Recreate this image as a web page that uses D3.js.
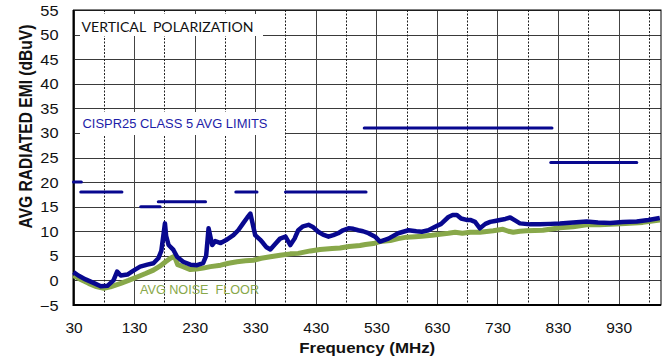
<!DOCTYPE html>
<html><head><meta charset="utf-8">
<script src="https://cdn.jsdelivr.net/npm/d3@7"></script>
<style>body{margin:0;background:#fff}svg{display:block}</style>
</head><body><svg id="c" width="663" height="360"></svg>
<script>
// ---- data ----
const emiFreq = [30,38,50,63,75,86,96,102,108,119,129,140,152,162,170,175,181,183,187,195,201,211,223,234,244,249,253,259,264,273,282,294,302,310,317,322,325,330,338,343,348,355,363,371,380,388,395,401,409,418,426,434,442,451,459,467,475,484,492,500,508,517,528,536,550,566,583,596,605,616,627,637,649,656,663,670,679,685,693,701,710,718,726,734,743,751,759,767,784,800,817,833,855,877,896,916,937,960,979,998];
const emiLevel = [1.7,1.0,0.2,-0.5,-1.2,-1.1,0.0,1.8,1.0,1.2,2.0,2.8,3.2,3.5,4.5,6.0,11.6,9.0,7.2,6.2,4.8,3.8,3.2,3.1,3.5,5.0,10.6,7.2,8.0,7.6,8.2,9.2,10.2,11.6,12.8,13.6,12.0,9.2,8.3,7.6,6.8,6.3,7.4,8.5,8.9,7.2,8.5,10.2,11.0,11.3,10.8,9.9,9.3,8.9,9.2,9.6,10.2,10.6,10.5,10.2,10.0,9.6,8.9,7.9,8.5,9.6,10.2,10.0,9.9,10.2,10.9,11.5,12.9,13.3,13.3,12.6,12.3,12.3,11.9,10.6,11.5,11.9,12.1,12.3,12.5,12.8,12.2,11.6,11.4,11.4,11.5,11.6,11.8,12.0,11.8,11.7,11.9,12.0,12.3,12.7];
const floorFreq = [30,42,55,66,80,91,108,121,135,149,162,174,182,190,195,198,202,211,223,233,244,256,273,286,300,314,327,340,355,371,388,401,421,437,457,470,485,503,512,525,536,553,566,580,594,605,622,635,649,660,672,685,701,723,739,748,756,767,778,805,833,855,877,899,916,941,970,998];
const floorLevel = [1.0,0.2,-0.6,-1.2,-1.6,-1.3,-0.6,0.0,0.7,1.4,2.1,3.0,3.8,4.5,4.8,4.5,3.2,2.8,2.2,2.3,2.5,2.8,3.1,3.5,3.8,4.0,4.1,4.5,4.8,5.1,5.4,5.5,6.0,6.3,6.5,6.6,6.9,7.1,7.3,7.5,7.9,8.1,8.5,8.8,8.9,9.0,9.2,9.4,9.6,9.8,9.6,9.8,9.8,10.1,10.4,10.0,9.8,10.0,10.1,10.2,10.7,10.9,11.3,11.3,11.4,11.6,11.8,12.3];
const limitStart = [30,42,141,170,298,380,510,818];
const limitEnd   = [43,110,173,248,333,513,820,960];
const limitLevel = [20,18,15,16,18,18,31,24];
const xTickLabels = [30,130,230,330,430,530,630,730,830,930];
const xMinorGrid = [80,180,280,380,480,580,680,780,880,980];
const yTickLabels = [-5,0,5,10,15,20,25,30,35,40,45,50,55];

// ---- layout ----
const svg = d3.select('#c');
const x = d3.scaleLinear().domain([30,1000]).range([73.5,661]);
const y = d3.scaleLinear().domain([-5,55]).range([305,10]);
const navy = '#08088f', green = '#88a84a';

// grid
const g = svg.append('g');
g.selectAll('.hg').data(yTickLabels).join('line')
  .attr('x1', x(30)).attr('x2', x(1000))
  .attr('y1', d => Math.round(y(d))+0.5).attr('y2', d => Math.round(y(d))+0.5)
  .attr('stroke', '#3a3a3a').attr('stroke-width', 1);
g.selectAll('.vg').data(xTickLabels).join('line')
  .attr('x1', d => Math.round(x(d))+0.5).attr('x2', d => Math.round(x(d))+0.5)
  .attr('y1', y(55)).attr('y2', y(-5))
  .attr('stroke', '#444').attr('stroke-width', 1);
g.selectAll('.vd').data(xMinorGrid).join('line')
  .attr('x1', d => Math.round(x(d))+0.5).attr('x2', d => Math.round(x(d))+0.5)
  .attr('y1', y(55)).attr('y2', y(-5))
  .attr('stroke', '#222').attr('stroke-width', 1).attr('stroke-dasharray', '2,1.5');

// border
svg.append('rect').attr('x', x(30)).attr('y', y(55)).attr('width', x(1000)-x(30)).attr('height', y(-5)-y(55))
  .attr('fill', 'none').attr('stroke', '#000').attr('stroke-width', 1);
svg.append('line').attr('x1', x(30)).attr('x2', x(30)).attr('y1', y(55)).attr('y2', y(-5)+1).attr('stroke', '#000').attr('stroke-width', 2);
svg.append('line').attr('x1', x(30)).attr('x2', x(1000)).attr('y1', y(-5)).attr('y2', y(-5)).attr('stroke', '#000').attr('stroke-width', 2);

// annotation boxes
svg.append('rect').attr('x', 80).attr('y', 14).attr('width', 183).attr('height', 22).attr('fill', '#fff');
svg.append('text').attr('x', 81.5).attr('y', 31.5).attr('font-family', 'Lato, "Open Sans", sans-serif')
  .attr('font-size', 14).attr('fill', '#111').attr('textLength', 172).attr('lengthAdjust', 'spacingAndGlyphs')
  .attr('xml:space', 'preserve').text('VERTICAL  POLARIZATION');
svg.append('rect').attr('x', 80).attr('y', 112).attr('width', 205).attr('height', 23).attr('fill', '#fff');
svg.append('text').attr('x', 82.5).attr('y', 127.7).attr('font-family', 'Arial, "Liberation Sans", sans-serif')
  .attr('font-size', 12.5).attr('fill', '#1c1ca8').attr('textLength', 185).attr('lengthAdjust', 'spacingAndGlyphs')
  .text('CISPR25 CLASS 5 AVG LIMITS');
svg.append('text').attr('x', 140).attr('y', 294.3).attr('font-family', 'Arial, "Liberation Sans", sans-serif')
  .attr('font-size', 13.5).attr('fill', green).attr('textLength', 119).attr('lengthAdjust', 'spacingAndGlyphs')
  .attr('xml:space', 'preserve').text('AVG NOISE  FLOOR');

// curves
const floorData = floorFreq.map((f,i) => [f, floorLevel[i]]);
const emiData = emiFreq.map((f,i) => [f, emiLevel[i]]);
const line = d3.line().x(d => x(d[0])).y(d => y(d[1]));
svg.append('path').datum(floorData).attr('d', line).attr('fill', 'none')
  .attr('stroke', green).attr('stroke-width', 5).attr('stroke-linejoin', 'round');
svg.append('path').datum(emiData).attr('d', line).attr('fill', 'none')
  .attr('stroke', navy).attr('stroke-width', 4.5).attr('stroke-linejoin', 'round');

// limits
svg.selectAll('.lim').data(limitLevel).join('line')
  .attr('x1', (d,i) => x(limitStart[i])).attr('x2', (d,i) => x(limitEnd[i]))
  .attr('y1', d => y(d)).attr('y2', d => y(d))
  .attr('stroke', navy).attr('stroke-width', 3).attr('stroke-linecap', 'round');

// axes
const yAxis = svg.append('g').attr('transform', `translate(${x(30)},0)`)
  .call(d3.axisLeft(y).tickValues(yTickLabels).tickSize(0).tickPadding(0));
yAxis.select('.domain').remove();
yAxis.selectAll('text').attr('x', 0).attr('dy', '0.36em')
  .attr('transform', 'translate(-15,0) scale(1.17,1)')
  .attr('font-family', 'Arial, "Liberation Sans", sans-serif').attr('font-size', 14).attr('fill', '#111');

const xAxis = svg.append('g').attr('transform', `translate(0,${y(-5)})`)
  .call(d3.axisBottom(x).tickValues(xTickLabels).tickSize(0).tickPadding(0));
xAxis.select('.domain').remove();
xAxis.selectAll('text').attr('y', 27.5).attr('dy', 0)
  .attr('font-family', 'Arial, "Liberation Sans", sans-serif').attr('font-size', 15.5).attr('fill', '#111');

// titles
svg.append('text').attr('x', (x(30)+x(1000))/2).attr('y', 352.5).attr('text-anchor', 'middle')
  .attr('font-family', 'Arial, "Liberation Sans", sans-serif').attr('font-weight', 'bold')
  .attr('font-size', 15.5).attr('fill', '#111').attr('textLength', 136).attr('lengthAdjust', 'spacingAndGlyphs')
  .text('Frequency (MHz)');
svg.append('text').attr('transform', 'translate(32,126.5) rotate(-90) scale(1,1.22)').attr('text-anchor', 'middle')
  .attr('font-family', 'Arial, "Liberation Sans", sans-serif').attr('font-weight', 'bold')
  .attr('font-size', 15.6).attr('fill', '#111')
  .text('AVG RADIATED EMI (dBuV)');
</script></body></html>
